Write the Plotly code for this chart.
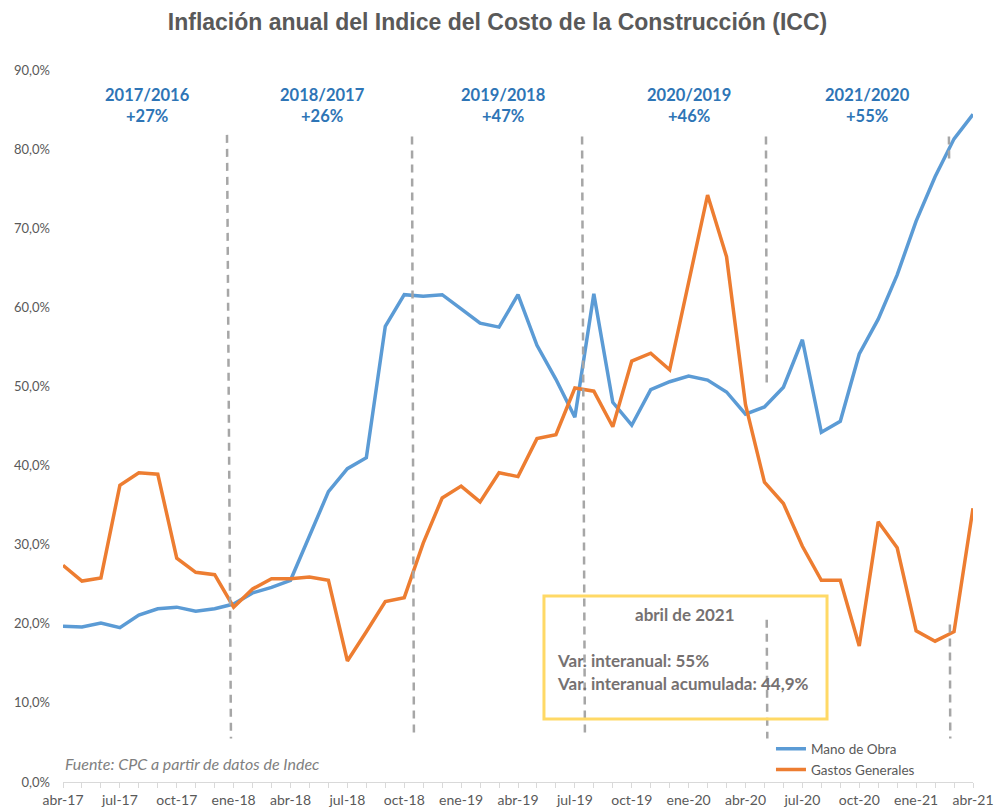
import plotly.graph_objects as go

months = ["abr-17", "may-17", "jun-17", "jul-17", "ago-17", "sep-17", "oct-17", "nov-17", "dic-17",
          "ene-18", "feb-18", "mar-18", "abr-18", "may-18", "jun-18", "jul-18", "ago-18", "sep-18",
          "oct-18", "nov-18", "dic-18", "ene-19", "feb-19", "mar-19", "abr-19", "may-19", "jun-19",
          "jul-19", "ago-19", "sep-19", "oct-19", "nov-19", "dic-19", "ene-20", "feb-20", "mar-20",
          "abr-20", "may-20", "jun-20", "jul-20", "ago-20", "sep-20", "oct-20", "nov-20", "dic-20",
          "ene-21", "feb-21", "mar-21", "abr-21"]

mano_de_obra = [19.7, 19.6, 20.1, 19.5, 21.1, 21.9, 22.1, 21.6, 21.9,
                22.5, 23.9, 24.6, 25.5, 31.0, 36.7, 39.6, 41.0,
                57.6, 61.6, 61.4, 61.6, 59.8, 58.0, 57.5, 61.6,
                55.2, 50.9, 46.1, 61.7, 48.0, 45.1, 49.6, 50.6,
                51.3, 50.8, 49.3, 46.5, 47.4, 49.9, 55.9, 44.2,
                45.6, 54.1, 58.5, 64.1, 70.9, 76.5, 81.3, 84.4]

gastos_generales = [27.4, 25.4, 25.8, 37.5, 39.1, 38.9, 28.3, 26.5, 26.2,
                    22.1, 24.4, 25.7, 25.7, 25.9, 25.5, 15.3, 19.0,
                    22.8, 23.3, 30.2, 35.9, 37.4, 35.4, 39.1, 38.6,
                    43.4, 43.9, 49.8, 49.4, 44.9, 53.2, 54.2, 52.1,
                    63.2, 74.2, 66.4, 47.7, 37.9, 35.2, 29.8, 25.5,
                    25.5, 17.2, 32.9, 29.6, 19.1, 17.8, 19.0, 34.6]

tick_labels = [m if i % 3 == 0 else "" for i, m in enumerate(months)]

period_labels = ["2017/2016<br>+27%", "2018/2017<br>+26%", "2019/2018<br>+47%",
                 "2020/2019<br>+46%", "2021/2020<br>+55%"]
period_pos = [4.48, 13.71, 23.2, 33.0, 42.46]

FONT = "Lato, 'Open Sans', sans-serif"
GRAY = "#595959"

fig = go.Figure()
fig.add_trace(go.Scatter(x=months, y=mano_de_obra, mode="lines", name="Mano de Obra",
                         line=dict(color="#5B9BD5", width=3.5)))
fig.add_trace(go.Scatter(x=months, y=gastos_generales, mode="lines", name="Gastos Generales",
                         line=dict(color="#ED7D31", width=3.5)))

dash_style = dict(color="#A6A6A6", width=2.5, dash="8px,6px")
segments = [
    (8.65, 81.8, 8.86, 5.5),
    (18.41, 81.6, 18.51, 5.5),
    (27.38, 81.6, 27.53, 5.5),
    (37.08, 81.6, 37.12, 50.4),
    (37.12, 20.5, 37.15, 5.5),
    (46.73, 81.6, 46.74, 78.5),
    (46.78, 19.9, 46.8, 5.5),
]
for x0, y0, x1, y1 in segments:
    fig.add_shape(type="line", xref="x", yref="y", x0=x0, y0=y0, x1=x1, y1=y1, line=dash_style)

fig.add_shape(type="rect", xref="x", yref="y", x0=25.37, x1=40.30, y0=7.96, y1=23.51,
              line=dict(color="#FFD966", width=3), fillcolor="rgba(0,0,0,0)")

for txt, xp in zip(period_labels, period_pos):
    fig.add_annotation(x=xp, y=85.5, xref="x", yref="y", text=f"<b>{txt}</b>", showarrow=False,
                       font=dict(family=FONT, size=16.5, color="#2E75B6"), align="center")

box_color = "#767171"
fig.add_annotation(x=32.8, y=21.2, xref="x", yref="y", text="<b>abril de 2021</b>", showarrow=False,
                   font=dict(family=FONT, size=17, color=box_color))
fig.add_annotation(x=25.95, y=15.4, xref="x", yref="y", text="<b>Var. interanual: 55%</b>",
                   showarrow=False, xanchor="left", font=dict(family=FONT, size=17, color=box_color))
fig.add_annotation(x=25.95, y=12.5, xref="x", yref="y", text="<b>Var. interanual acumulada: 44,9%</b>",
                   showarrow=False, xanchor="left", font=dict(family=FONT, size=17, color=box_color))

fig.add_annotation(x=0, y=2.4, xref="x", yref="y", text="<i>Fuente: CPC a partir de datos de Indec</i>",
                   showarrow=False, xanchor="left", font=dict(family=FONT, size=16, color="#7F7F7F"))

fig.update_layout(
    width=995, height=809,
    margin=dict(l=63, r=22, t=70, b=27, autoexpand=False),
    paper_bgcolor="white", plot_bgcolor="white",
    separators=",.",
    title=dict(text="<b>Inflación anual del Indice del Costo de la Construcción (ICC)</b>",
               x=0.5, xanchor="center", y=0.973, yanchor="middle",
               font=dict(family="'Liberation Sans', Arial, sans-serif", size=23, color=GRAY)),
    legend=dict(x=0.778, y=0.068, xanchor="left", yanchor="top", bgcolor="rgba(0,0,0,0)",
                font=dict(family=FONT, size=13.5, color=GRAY), tracegroupgap=0),
    showlegend=True,
)
fig.update_xaxes(type="category", range=[0, 48], tickmode="array", tickvals=months, ticktext=tick_labels,
                 ticks="outside", ticklen=5, tickcolor="#D9D9D9", showline=True, linecolor="#D9D9D9",
                 linewidth=1, showgrid=False, zeroline=False, tickangle=0, automargin=False,
                 tickfont=dict(family=FONT, size=14, color=GRAY))
fig.update_yaxes(range=[0, 90], dtick=10, tickformat=".1f", ticksuffix="%", showgrid=False,
                 zeroline=False, showline=False, ticks="", automargin=False, ticklabelstandoff=12,
                 tickfont=dict(family=FONT, size=13, color=GRAY))

fig.write_html("out.html")
